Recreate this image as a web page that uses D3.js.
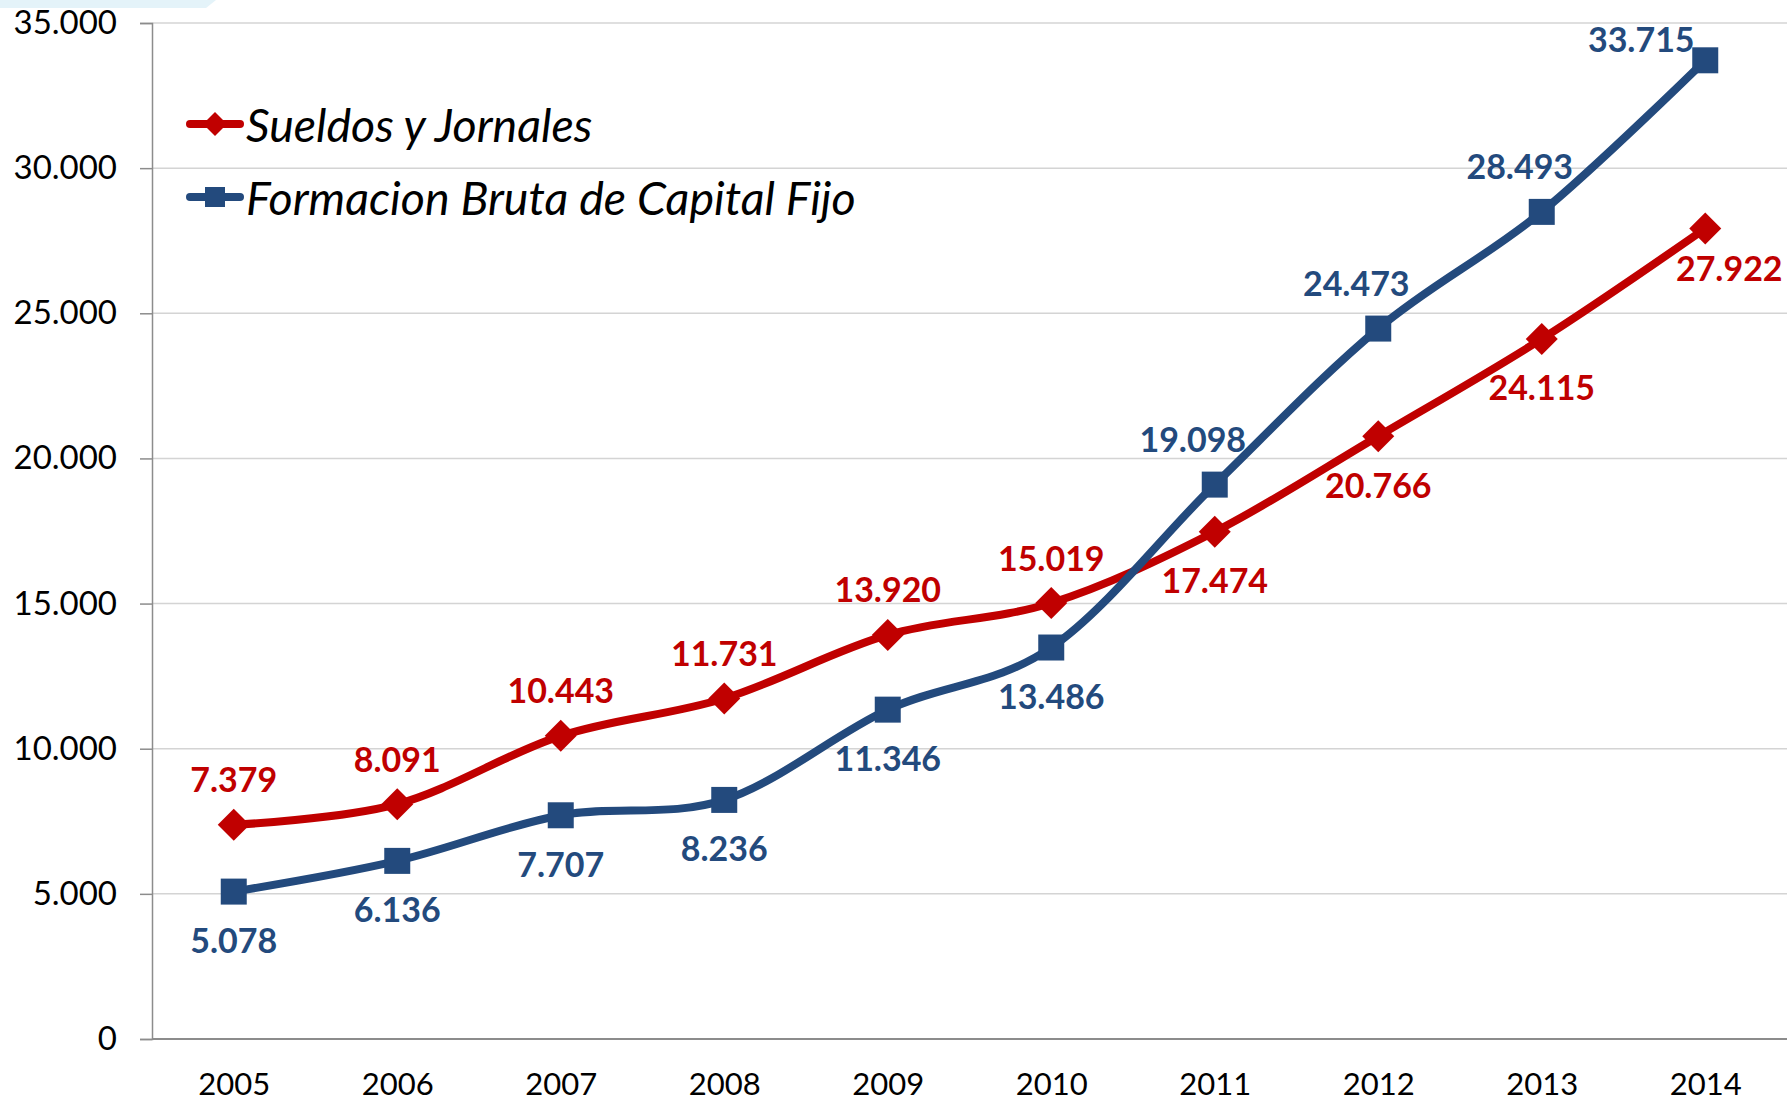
<!DOCTYPE html>
<html>
<head>
<meta charset="utf-8">
<script src="https://cdn.jsdelivr.net/npm/d3@7"></script>
<style>
  body { margin: 0; background: #fff; }
  svg { display: block; }
</style>
</head>
<body>
<div class="viz"></div>
<script>
// chart data
const years = ["2005", "2006", "2007", "2008", "2009", "2010", "2011", "2012", "2013", "2014"];
const sueldos = [7379, 8091, 10443, 11731, 13920, 15019, 17474, 20766, 24115, 27922];
const formacion = [5078, 6136, 7707, 8236, 11346, 13486, 19098, 24473, 28493, 33715];
const yTicks = [0, 5000, 10000, 15000, 20000, 25000, 30000, 35000];
const seriesNames = ["Sueldos y Jornales", "Formacion Bruta de Capital Fijo"];
// where each data label sits relative to its point
const sueldosLabelPos = ["t", "t", "t", "t", "t", "t", "b", "b", "b", "br"];
const formacionLabelPos = ["b", "b", "b", "b", "b", "b", "tl", "tl", "tl", "l"];

const width = 1787, height = 1103;
const red = "#C00000", blue = "#234A7D";

const locale = d3.formatLocale({ decimal: ",", thousands: ".", grouping: [3], currency: ["", ""] });
const fmt = locale.format(",d");

const svg = d3.select(".viz").append("svg")
    .attr("width", width)
    .attr("height", height);

// faint slide decoration in the top-left corner
svg.append("polygon")
    .attr("points", "0,0 216,0 206,8 0,8")
    .attr("fill", "#e4f3f9");

const x = d3.scalePoint()
    .domain(years)
    .range([152, width])
    .padding(0.5);

const y = d3.scaleLinear()
    .domain([0, 35000])
    .range([1039, 23]);

// gridlines
svg.append("g")
    .selectAll("line")
    .data(yTicks.filter(d => d > 0))
    .enter().append("line")
    .attr("x1", 152)
    .attr("x2", width)
    .attr("y1", d => y(d))
    .attr("y2", d => y(d))
    .attr("stroke", "#d4d4d4")
    .attr("stroke-width", 1.5);

// y axis
const yAxis = svg.append("g")
    .attr("transform", "translate(152,0)")
    .call(d3.axisLeft(y).tickValues(yTicks).tickFormat(fmt).tickSize(12).tickPadding(23));
yAxis.select(".domain").attr("stroke", "#8c8c8c").attr("stroke-width", 1.5);
yAxis.selectAll(".tick line").attr("stroke", "#8c8c8c").attr("stroke-width", 1.5);
yAxis.selectAll(".tick text")
    .attr("fill", "#000")
    .style("font-family", "Lato, 'Open Sans', sans-serif")
    .style("font-size", "33px");

// x axis
const xAxis = svg.append("g")
    .attr("transform", `translate(0,${y(0)})`)
    .call(d3.axisBottom(x).tickSize(0).tickPadding(34));
xAxis.select(".domain").attr("stroke", "#8c8c8c").attr("stroke-width", 2)
    .attr("d", `M152,0H${width}`);
xAxis.selectAll(".tick text")
    .attr("fill", "#000")
    .style("font-family", "Lato, 'Open Sans', sans-serif")
    .style("font-size", "31px");

const line = d3.line()
    .x((d, i) => x(years[i]))
    .y(d => y(d))
    .curve(d3.curveCardinal.tension(0));

function labelOffset(pos) {
    if (pos === "t") return [0, -46];
    if (pos === "b") return [0, 48];
    if (pos === "tl") return [-22, -46];
    if (pos === "br") return [24, 39];
    if (pos === "l") return [-64, -22];
    return [0, 0];
}

function drawSeries(values, color, marker, labelPos) {
    const g = svg.append("g");

    g.append("path")
        .datum(values)
        .attr("d", line)
        .attr("fill", "none")
        .attr("stroke", color)
        .attr("stroke-width", 8)
        .attr("stroke-linejoin", "round")
        .attr("stroke-linecap", "round");

    g.selectAll("path.marker")
        .data(values)
        .enter().append("path")
        .attr("class", "marker")
        .attr("transform", (d, i) => `translate(${x(years[i])},${y(d)})`)
        .attr("d", marker)
        .attr("fill", color);

    g.selectAll("text")
        .data(values)
        .enter().append("text")
        .attr("x", (d, i) => x(years[i]) + labelOffset(labelPos[i])[0])
        .attr("y", (d, i) => y(d) + labelOffset(labelPos[i])[1])
        .attr("text-anchor", "middle")
        .attr("dominant-baseline", "central")
        .attr("fill", color)
        .style("font-family", "Lato, 'Open Sans', sans-serif")
        .style("font-weight", "bold")
        .style("font-size", "34px")
        .text(d => fmt(d));
}

const diamond = "M0,-16L16,0L0,16L-16,0Z";
const square = "M-13,-13H13V13H-13Z";

drawSeries(sueldos, red, diamond, sueldosLabelPos);
drawSeries(formacion, blue, square, formacionLabelPos);

// legend
const legend = svg.append("g");
const legendItems = [
    { name: seriesNames[0], color: red, marker: "M0,-12L12,0L0,12L-12,0Z", y: 124 },
    { name: seriesNames[1], color: blue, marker: "M-10,-10H10V10H-10Z", y: 197 }
];

legendItems.forEach(item => {
    legend.append("line")
        .attr("x1", 190).attr("x2", 240)
        .attr("y1", item.y).attr("y2", item.y)
        .attr("stroke", item.color)
        .attr("stroke-width", 8)
        .attr("stroke-linecap", "round");
    legend.append("path")
        .attr("transform", `translate(215,${item.y})`)
        .attr("d", item.marker)
        .attr("fill", item.color);
    legend.append("text")
        .attr("x", 246)
        .attr("y", item.y)
        .attr("dominant-baseline", "central")
        .attr("fill", "#000")
        .style("font-family", "Lato, 'Open Sans', sans-serif")
        .style("font-style", "italic")
        .style("font-size", "46.5px")
        .text(item.name);
});
</script>
</body>
</html>
